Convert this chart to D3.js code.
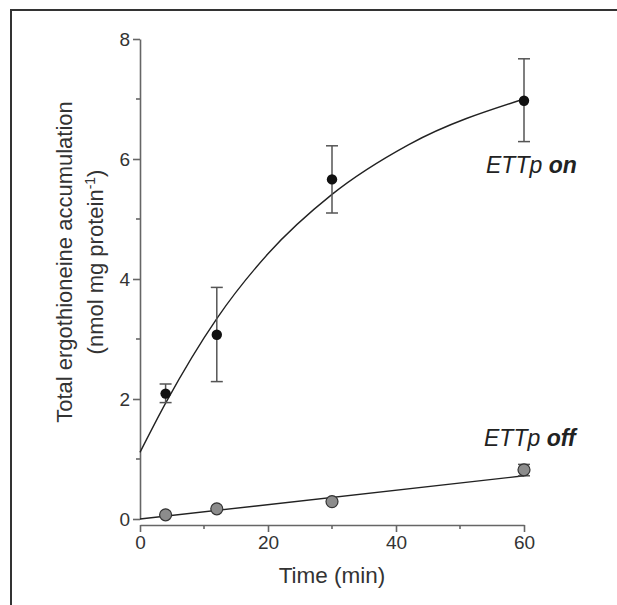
<!DOCTYPE html>
<html>
<head>
<meta charset="utf-8">
<script src="https://cdn.jsdelivr.net/npm/d3@7"></script>
<style>
    body { margin: 0; background: #fff; }
    svg { display: block; font-family: "Liberation Sans", Arial, Helvetica, sans-serif; }
    .axis path, .axis line { stroke: #666; stroke-width: 1.6px; }
    .axis text { fill: #333; font-size: 19px; }
</style>
</head>
<body>
<div id="chart"></div>
<script>
// measured points (time in min, nmol mg protein^-1)
const times = [4, 12, 30, 60];
const onMean = [2.09, 3.07, 5.66, 6.97];
const onLow = [1.94, 2.29, 5.10, 6.29];
const onHigh = [2.25, 3.86, 6.22, 7.67];
const offMean = [0.07, 0.17, 0.29, 0.82];
const offLow = [0.07, 0.17, 0.29, 0.72];
const offHigh = [0.07, 0.17, 0.29, 0.91];

// fitted curves
const onFitTime = [0, 4, 12, 20, 30, 42, 60];
const onFitValue = [1.11, 1.93, 3.34, 4.42, 5.41, 6.24, 7.0];
const offFitTime = [0, 60];
const offFitValue = [0, 0.72];

const xMajor = [0, 20, 40, 60];
const xMinor = [10, 30, 50];
const yMajor = [0, 2, 4, 6, 8];
const yMinor = [1, 3, 5, 7];

const width = 617;
const height = 605;

const svg = d3.select('#chart').append('svg')
    .attr('width', width)
    .attr('height', height);

// frame
svg.append('path')
    .attr('d', `M11,${height} V10 H${width}`)
    .attr('fill', 'none')
    .attr('stroke', '#333')
    .attr('stroke-width', 2);

const x = d3.scaleLinear().domain([0, 60]).range([140, 524]);
const y = d3.scaleLinear().domain([0, 8]).range([519, 39]);

// y axis
const yAxis = svg.append('g')
    .attr('class', 'axis')
    .attr('transform', `translate(${x(0)},0)`);
yAxis.call(d3.axisLeft(y).tickValues(yMajor).tickSize(7).tickSizeOuter(0).tickPadding(3).tickFormat(d3.format('d')));
yAxis.selectAll('.minor')
    .data(yMinor)
    .enter().append('line')
    .attr('class', 'minor')
    .attr('x1', -4).attr('x2', 0)
    .attr('y1', d => y(d)).attr('y2', d => y(d));

// x axis (offset below zero)
const xAxis = svg.append('g')
    .attr('class', 'axis')
    .attr('transform', 'translate(0,525)');
xAxis.call(d3.axisBottom(x).tickValues(xMajor).tickSize(7).tickSizeOuter(0).tickPadding(4).tickFormat(d3.format('d')));
xAxis.selectAll('.minor')
    .data(xMinor)
    .enter().append('line')
    .attr('class', 'minor')
    .attr('y1', 0).attr('y2', 4)
    .attr('x1', d => x(d)).attr('x2', d => x(d));

// axis titles
svg.append('text')
    .attr('x', (x(0) + x(60)) / 2)
    .attr('y', 583)
    .attr('text-anchor', 'middle')
    .attr('fill', '#333')
    .style('font-size', '22.5px')
    .text('Time (min)');

const yTitle = svg.append('g')
    .attr('transform', 'translate(0,262) rotate(-90)')
    .attr('fill', '#333')
    .style('font-size', '22px');
yTitle.append('text')
    .attr('y', 72)
    .attr('text-anchor', 'middle')
    .text('Total ergothioneine accumulation');
const line2 = yTitle.append('text')
    .attr('y', 103)
    .attr('text-anchor', 'middle');
line2.append('tspan').text('(nmol mg protein');
line2.append('tspan').attr('dy', -8).style('font-size', '14px').text('-1');
line2.append('tspan').attr('dy', 8).text(')');

// fitted curves
const onFit = onFitTime.map((t, i) => [t, onFitValue[i]]);
const offFit = offFitTime.map((t, i) => [t, offFitValue[i]]);
const line = d3.line()
    .x(d => x(d[0]))
    .y(d => y(d[1]))
    .curve(d3.curveMonotoneX);

[onFit, offFit].forEach(pts => {
    svg.append('path')
        .attr('d', line(pts))
        .attr('fill', 'none')
        .attr('stroke', '#222')
        .attr('stroke-width', 1.4);
});

// error bars
function drawErrors(low, high) {
    const g = svg.append('g')
        .attr('stroke', '#555')
        .attr('stroke-width', 1.5);
    times.forEach((t, i) => {
        if (high[i] - low[i] < 0.01) return;
        const cx = x(t);
        g.append('line').attr('x1', cx).attr('x2', cx).attr('y1', y(low[i])).attr('y2', y(high[i]));
        g.append('line').attr('x1', cx - 6).attr('x2', cx + 6).attr('y1', y(low[i])).attr('y2', y(low[i]));
        g.append('line').attr('x1', cx - 6).attr('x2', cx + 6).attr('y1', y(high[i])).attr('y2', y(high[i]));
    });
}
drawErrors(onLow, onHigh);
drawErrors(offLow, offHigh);

// points
svg.selectAll('.pt-on')
    .data(times)
    .enter().append('circle')
    .attr('class', 'pt-on')
    .attr('cx', d => x(d))
    .attr('cy', (d, i) => y(onMean[i]))
    .attr('r', 5.2)
    .attr('fill', '#111');

svg.selectAll('.pt-off')
    .data(times)
    .enter().append('circle')
    .attr('class', 'pt-off')
    .attr('cx', d => x(d))
    .attr('cy', (d, i) => y(offMean[i]))
    .attr('r', 6)
    .attr('fill', '#8c8c8c')
    .attr('stroke', '#333')
    .attr('stroke-width', 1.2);

// series labels
function seriesLabel(px, py, state) {
    const t = svg.append('text')
        .attr('x', px)
        .attr('y', py)
        .attr('fill', '#222')
        .style('font-size', '23px')
        .style('font-style', 'italic');
    t.append('tspan').text('ETTp ');
    t.append('tspan').style('font-weight', 'bold').text(state);
}
seriesLabel(486, 173, 'on');
seriesLabel(484, 446, 'off');
</script>
</body>
</html>
